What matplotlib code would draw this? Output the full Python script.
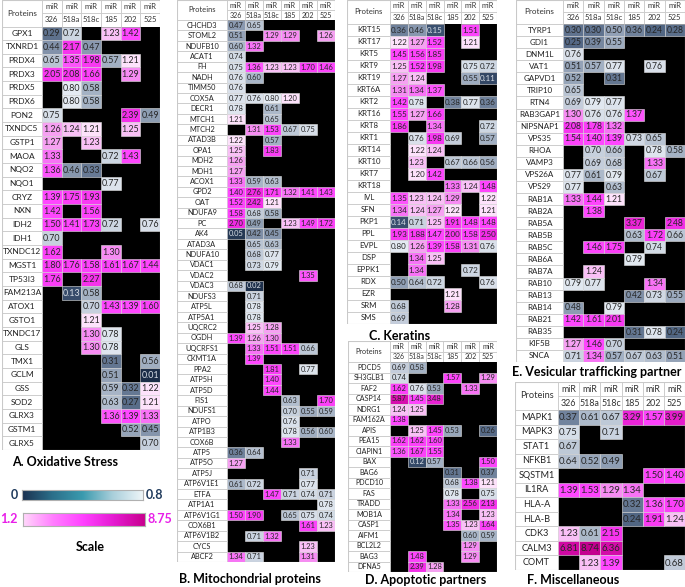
import matplotlib.pyplot as plt
import numpy as np
from matplotlib.colors import LinearSegmentedColormap, Normalize
from matplotlib.patches import Rectangle

plt.rcParams['font.family'] = ['Lato', 'DejaVu Sans']

N = None
mirs = ['326', '518a', '518c', '185', '202', '525']

# A. Oxidative stress
ox_names = ['GPX1', 'TXNRD1', 'PRDX4', 'PRDX3', 'PRDX5', 'PRDX6', 'PON2', 'TXNDC5', 'GSTP1',
            'MAOA', 'NQO2', 'NQO1', 'CRYZ', 'NXN', 'IDH2', 'IDH1', 'TXNDC12', 'MGST1', 'TP53I3',
            'FAM213A', 'ATOX1', 'GSTO1', 'TXNDC17', 'GLS', 'TMX1', 'GCLM', 'GSS', 'SOD2',
            'GLRX3', 'GSTM1', 'GLRX5']
ox_vals = [
    [0.29, 0.72, N, 1.23, 1.42, N],
    [0.44, 2.17, 0.47, N, N, N],
    [0.65, 1.35, 1.98, 0.57, 1.21, N],
    [2.05, 2.08, 1.66, N, 1.29, N],
    [N, 0.80, 0.58, N, N, N],
    [N, 0.80, 0.58, N, N, N],
    [0.75, N, N, N, 2.39, 0.49],
    [1.26, 1.24, 1.21, N, 1.25, N],
    [1.27, N, 1.23, N, N, N],
    [1.33, N, N, 0.72, 1.43, N],
    [1.36, 0.46, 0.33, N, N, N],
    [N, N, N, 0.77, N, N],
    [1.39, 1.75, 1.93, N, N, N],
    [1.42, N, 1.56, N, N, N],
    [1.50, 1.41, 1.73, 0.72, N, 0.76],
    [0.70, N, N, N, N, N],
    [1.62, N, N, 1.30, N, N],
    [1.80, 1.76, 1.58, 1.61, 1.67, 1.44],
    [1.76, N, 2.27, N, N, N],
    [N, 0.13, 0.58, N, N, N],
    [N, N, 0.70, 1.43, 1.39, 1.60],
    [N, N, 1.21, N, N, N],
    [N, N, 1.30, 0.78, N, N],
    [N, N, 1.30, 0.78, N, N],
    [N, N, N, 0.31, N, 0.56],
    [N, N, N, 0.51, N, 0.01],
    [N, N, N, 0.59, 0.32, 1.22],
    [N, N, N, 0.63, 0.27, 1.21],
    [N, N, N, 1.36, 1.39, 1.33],
    [N, N, N, N, 0.52, 0.45],
    [N, N, N, N, N, 0.70],
]

# B. Mitochondrial proteins
mito_names = ['CHCHD3', 'STOML2', 'NDUFB10', 'ACAT1', 'FH', 'NADH', 'TIMM50', 'COX5A', 'DECR1',
              'MTCH1', 'MTCH2', 'ATAD3B', 'OPA1', 'MDH2', 'MDH1', 'ACOX1', 'GPD2', 'OAT',
              'NDUFA9', 'PC', 'AK4', 'ATAD3A', 'NDUFA10', 'VDAC1', 'VDAC2', 'VDAC3', 'NDUFS3',
              'ATP5L', 'ATP5A1', 'UQCRC2', 'OGDH', 'UQCRFS1', 'CKMT1A', 'PPA2', 'ATP5H', 'ATP5D',
              'FIS1', 'NDUFS1', 'ATPO', 'ATP1B3', 'COX6B', 'ATP5', 'ATP5O', 'ATP5J', 'ATP6V1E1',
              'ETFA', 'ATP1A1', 'ATP6V1G1', 'COX6B1', 'ATP6V1B2', 'CYCS', 'ABCF2']
mito_vals = [
    [0.47, 0.65, N, N, N, N],
    [0.51, N, 1.29, 1.29, N, 1.26],
    [0.60, 1.32, N, N, N, N],
    [0.74, N, N, N, N, N],
    [0.75, 1.36, 1.23, 1.23, 1.70, 1.46],
    [0.76, 0.60, N, N, N, N],
    [0.76, N, N, N, N, N],
    [0.77, 0.76, 0.80, 1.20, N, N],
    [0.78, N, 0.61, N, N, N],
    [1.21, N, 0.65, N, N, N],
    [N, 1.31, 1.53, 0.67, 0.75, N],
    [1.22, N, 0.57, N, N, N],
    [1.25, N, 1.83, N, N, N],
    [1.26, N, N, N, N, N],
    [1.27, N, N, N, N, N],
    [1.33, 0.59, 0.63, N, N, N],
    [1.40, 2.76, 1.71, 1.32, 1.41, 1.43],
    [1.52, 2.42, 1.21, N, N, N],
    [1.58, 0.68, 0.58, N, N, N],
    [2.70, 0.49, N, 1.23, 1.49, 1.72],
    [0.05, 0.42, 0.45, N, N, N],
    [N, 0.65, 0.63, N, N, N],
    [N, 0.68, 0.77, N, N, N],
    [N, 0.73, 0.79, N, N, N],
    [N, N, N, N, 1.35, N],
    [0.68, 0.02, N, N, N, N],
    [N, 0.71, N, N, N, N],
    [N, 0.78, N, N, N, N],
    [N, 0.78, N, N, N, N],
    [N, 1.25, 1.28, N, N, N],
    [1.39, 1.26, 1.30, N, N, N],
    [N, 1.33, 1.51, 1.51, 0.66, N],
    [N, 1.39, N, N, N, N],
    [N, N, 1.81, N, 0.77, N],
    [N, N, 1.40, N, N, N],
    [N, N, 1.44, N, N, N],
    [N, N, N, 0.63, N, 1.70],
    [N, N, N, 0.70, 0.55, 0.59],
    [N, N, N, 0.76, N, N],
    [N, N, N, 0.78, 0.56, 0.60],
    [N, N, N, 1.33, N, N],
    [0.36, 0.64, N, N, N, N],
    [1.27, N, N, N, N, N],
    [N, N, N, N, 0.71, N],
    [0.61, 0.72, N, N, 0.77, N],
    [N, N, 1.47, 0.71, 0.74, 0.71],
    [N, N, N, N, N, 0.78],
    [1.50, 1.90, N, 0.65, 0.75, 0.74],
    [N, N, N, N, 1.61, 1.23],
    [N, 0.71, 1.32, N, N, N],
    [N, N, N, N, 1.23, N],
    [1.34, 0.71, N, N, 1.31, N],
]

# C. Keratins
ker_names = ['KRT15', 'KRT17', 'KRT5', 'KRT9', 'KRT19', 'KRT6A', 'KRT2', 'KRT16', 'KRT8', 'KRT1',
             'KRT14', 'KRT10', 'KRT7', 'KRT18', 'IVL', 'SFN', 'PKP1', 'PPL', 'EVPL', 'DSP',
             'EPPK1', 'RDX', 'EZR', 'SRM', 'SMS']
ker_vals = [
    [0.36, 0.46, 0.15, N, 1.51, N],
    [1.22, 1.27, 1.52, N, 1.21, N],
    [1.45, 1.56, 1.85, N, N, N],
    [1.25, 1.52, 1.98, N, 0.75, 0.72],
    [1.27, 1.24, N, N, 0.55, 0.11],
    [1.31, 1.34, 1.37, N, N, N],
    [1.42, 0.78, N, 0.38, 0.77, 0.36],
    [1.55, 1.27, 1.66, N, N, N],
    [1.86, N, 1.34, N, N, 0.72],
    [N, 0.76, 1.98, 0.69, N, 0.57],
    [N, 1.22, 1.24, N, N, N],
    [N, 1.23, N, 0.67, 0.66, 0.56],
    [N, 1.20, 1.42, N, N, N],
    [N, N, N, 1.33, 1.24, 1.48],
    [1.35, 1.23, 1.24, 1.29, N, 1.22],
    [1.34, 1.24, 1.27, 1.22, N, 1.21],
    [0.14, 0.71, 1.25, 1.91, 1.48, 1.48],
    [1.93, 1.88, 1.47, 2.00, 1.58, 2.50],
    [0.80, 1.26, 1.39, 1.58, 1.31, 0.76],
    [N, 1.34, 1.25, N, N, N],
    [N, 1.34, N, N, 0.72, N],
    [0.50, 0.64, 0.72, N, N, 0.76],
    [N, N, N, 1.21, N, N],
    [0.68, N, N, 1.28, N, N],
    [0.69, N, N, N, N, N],
]

# D. Apoptotic partners
apo_names = ['PDCD5', 'SH3GLB1', 'FAF2', 'CASP14', 'NDRG1', 'FAM162A', 'APIS', 'PEA15', 'CIAPIN1',
             'BAX', 'BAG6', 'PDCD10', 'FAS', 'TRADD', 'MOB1A', 'CASP1', 'AIFM1', 'BCL2L2',
             'BAG3', 'DFNA5']
apo_vals = [
    [0.69, 0.58, N, N, N, N],
    [0.74, N, N, 1.57, N, 1.29],
    [1.62, 0.76, 0.53, N, 1.33, N],
    [5.87, 1.45, 3.48, N, N, N],
    [1.24, 1.25, N, N, N, N],
    [1.38, N, N, N, N, N],
    [N, 1.25, 1.45, 0.53, N, 0.26],
    [1.62, 1.62, 1.60, N, N, N],
    [1.36, 1.67, 1.55, N, N, N],
    [N, 0.12, 0.57, N, N, 1.50],
    [N, N, N, 0.31, N, 0.37],
    [N, N, N, 0.68, 1.38, 1.21],
    [N, N, N, 0.78, N, 0.75],
    [N, N, N, 1.33, 2.56, 2.13],
    [N, N, N, 1.34, N, 1.23],
    [N, N, N, 1.35, 1.23, 1.64],
    [N, N, N, N, 0.60, 0.59],
    [N, N, N, N, 1.29, N],
    [N, 1.48, N, N, 1.29, N],
    [N, 2.39, 1.28, N, N, N],
]

# E. Vesicular trafficking partner
ves_names = ['TYRP1', 'GDI1', 'DNM1L', 'VAT1', 'GAPVD1', 'TRIP10', 'RTN4', 'RAB3GAP1', 'NIPSNAP1',
             'VPS35', 'RHOA', 'VAMP3', 'VPS26A', 'VPS29', 'RAB1A', 'RAB2A', 'RAB5A', 'RAB5B',
             'RAB5C', 'RAB6A', 'RAB7A', 'RAB10', 'RAB13', 'RAB14', 'RAB21', 'RAB35', 'KIF5B', 'SNCA']
ves_vals = [
    [0.30, 0.30, 0.50, 0.36, 0.24, 0.28],
    [0.25, 0.39, 0.55, N, N, N],
    [0.76, N, N, N, N, N],
    [0.51, 0.57, 0.77, N, 0.76, N],
    [0.52, N, 0.31, N, N, N],
    [0.65, N, N, N, N, N],
    [0.69, 0.79, 0.77, N, N, N],
    [1.30, 0.76, 0.76, 1.37, N, N],
    [2.08, 1.78, 1.32, N, N, N],
    [1.54, 1.40, 1.39, 0.73, 0.65, N],
    [N, 0.70, 0.66, N, 0.78, 0.58],
    [N, 0.69, 0.68, N, 1.33, N],
    [0.77, 0.61, 0.79, N, 0.67, N],
    [0.77, N, 0.63, N, N, N],
    [1.33, 1.44, 1.21, N, N, N],
    [N, 1.38, N, N, N, N],
    [N, N, N, 3.37, N, 2.48],
    [N, N, N, 0.63, 1.72, 0.66],
    [N, 1.46, 1.75, N, 0.74, N],
    [N, N, N, 0.79, N, N],
    [N, 1.24, N, N, N, N],
    [0.79, 0.77, N, N, 1.34, N],
    [N, N, N, 0.42, 0.73, 0.55],
    [0.48, N, 0.79, N, N, N],
    [1.42, 1.61, 2.01, N, N, N],
    [N, N, N, 0.31, 0.78, 0.24],
    [1.27, 1.46, 0.70, N, N, N],
    [0.71, 1.34, 0.57, 0.67, 0.63, 0.51],
]

# F. Miscellaneous
misc_names = ['MAPK1', 'MAPK3', 'STAT1', 'NFKB1', 'SQSTM1', 'IL1RA', 'HLA-A', 'HLA-B', 'CDK3',
              'CALM3', 'COMT']
misc_vals = [
    [0.37, 0.61, 0.67, 3.29, 1.57, 3.99],
    [0.75, N, 0.71, N, N, N],
    [0.67, N, N, N, N, N],
    [0.64, 0.52, 0.49, N, N, N],
    [N, N, N, N, 1.50, 1.40],
    [1.39, 1.53, 1.29, 1.34, N, N],
    [N, N, N, 0.32, 1.36, 1.70],
    [N, N, N, 0.24, 1.91, 1.24],
    [1.23, 0.61, 2.15, N, N, N],
    [6.81, 8.74, 6.36, N, N, N],
    [N, 1.23, 1.39, N, N, 0.68],
]

# colour scales: 0-0.8 (down) and 1.2-8.75 (up)
lo_cmap = LinearSegmentedColormap.from_list(
    'lo', [(0, '#1a2b45'), (0.2, '#3e5474'), (0.45, '#6f819b'), (0.75, '#a9b6c8'), (1, '#e4eaf2')])
hi_stops = [(1.2, '#fde2fb'), (1.25, '#f6a8f2'), (1.31, '#f77cf4'), (1.36, '#ff47ff'),
            (2.5, '#f22ce6'), (5.0, '#dc12b8'), (8.75, '#c4008f')]
hi_cmap = LinearSegmentedColormap.from_list(
    'hi', [((v - 1.2) / (8.75 - 1.2), c) for v, c in hi_stops])
lo_norm = Normalize(0, 0.8)
hi_norm = Normalize(1.2, 8.75)

W, H = 685, 587
fig = plt.figure(figsize=(W / 100, H / 100), dpi=100)

grid = '#c9c9c9'


def cell_colour(v):
    if v < 1:
        return lo_cmap(lo_norm(min(v, 0.8)))
    return hi_cmap(hi_norm(max(v, 1.2)))


def draw_table(left, top, right, bottom, name_px, hdr_px, names, vals, fs, hfs, nfs):
    ax = fig.add_axes([left / W, 1 - bottom / H, (right - left) / W, (bottom - top) / H])
    n = len(names)
    colw = (right - left - name_px) / 6
    rowh = (bottom - top - hdr_px) / n
    nw = name_px / colw
    hh = hdr_px / rowh
    ax.set_xlim(-nw, 6)
    ax.set_ylim(n, -hh)
    ax.axis('off')
    # header
    ax.add_patch(Rectangle((-nw, -hh), nw, hh, fc='white', ec=grid, lw=0.6))
    ax.text(-nw / 2, -hh / 2, 'Proteins', ha='center', va='center', fontsize=hfs + 0.3, color='#333333')
    for j, m in enumerate(mirs):
        ax.add_patch(Rectangle((j, -hh), 1, hh / 2, fc='white', ec=grid, lw=0.6))
        ax.add_patch(Rectangle((j, -hh / 2), 1, hh / 2, fc='white', ec=grid, lw=0.6))
        ax.text(j + 0.5, -hh * 0.75, 'miR', ha='center', va='center', fontsize=hfs, color='#333333')
        ax.text(j + 0.5, -hh * 0.25, m, ha='center', va='center', fontsize=hfs, color='#333333')
    # black value area
    ax.add_patch(Rectangle((0, 0), 6, n, fc='black', ec='none'))
    for i, (name, row) in enumerate(zip(names, vals)):
        ax.add_patch(Rectangle((-nw, i), nw, 1, fc='white', ec=grid, lw=0.6))
        ax.text(-nw / 2, i + 0.5, name, ha='center', va='center', fontsize=nfs, color='#222222')
        for j, v in enumerate(row):
            if v is None:
                continue
            ax.add_patch(Rectangle((j, i), 1, 1, fc=cell_colour(v), ec='#e3e3e3', lw=0.4))
            tc = '#d8dee6' if v < 0.2 else '#262626'
            ax.text(j + 0.5, i + 0.52, f'{v:.2f}', ha='center', va='center', fontsize=fs, color=tc)
    ax.add_patch(Rectangle((-nw, -hh), nw + 6, n + hh, fc='none', ec=grid, lw=0.8))
    return ax


draw_table(2, 0, 160, 450, 40, 26.5, ox_names, ox_vals, 6.4, 5.6, 6.0)
draw_table(177, 0, 335, 562, 50, 20, mito_names, mito_vals, 5.4, 5.1, 5.3)
draw_table(347, 0, 497, 324, 43, 24, ker_names, ker_vals, 5.8, 5.3, 5.6)
draw_table(348, 341, 497, 572, 42, 21, apo_names, apo_vals, 5.4, 5.0, 5.1)
draw_table(516, 0, 685, 362, 47, 24, ves_names, ves_vals, 6.2, 5.6, 5.8)
draw_table(515, 382, 685, 570, 43, 28, misc_names, misc_vals, 6.8, 6.4, 6.6)

title_kw = dict(ha='center', va='center', fontsize=9, fontweight='bold', color='black')
fig.text(65 / W, 1 - 462 / H, 'A. Oxidative Stress', **title_kw)
fig.text(250 / W, 1 - 579 / H, 'B. Mitochondrial proteins', **title_kw)
fig.text(400 / W, 1 - 336 / H, 'C. Keratins', **title_kw)
fig.text(426 / W, 1 - 580 / H, 'D. Apoptotic partners', **title_kw)
fig.text(597 / W, 1 - 372 / H, 'E. Vesicular trafficking partner', **title_kw)
fig.text(573 / W, 1 - 580 / H, 'F. Miscellaneous', **title_kw)

# scale bars
bar_lo = LinearSegmentedColormap.from_list('barlo', ['#1b3150', '#2b6f8a', '#3a9aae', '#a9cfdb', '#eef5f8'])
bar_hi = LinearSegmentedColormap.from_list('barhi', ['#ffd8fb', '#ff7cff', '#ff40ff', '#e41ad0', '#c8008e'])

ax_lo = fig.add_axes([22 / W, 1 - 500 / H, 121 / W, 10 / H])
ax_lo.imshow(np.linspace(0, 0.8, 256)[None, :], cmap=bar_lo, aspect='auto', extent=[0, 0.8, 0, 1])
ax_lo.set_xticks([]); ax_lo.set_yticks([])
for s in ax_lo.spines.values():
    s.set_color('#b0b0b0'); s.set_linewidth(0.8)

ax_hi = fig.add_axes([23 / W, 1 - 526 / H, 122 / W, 13 / H])
ax_hi.imshow(np.linspace(1.2, 8.75, 256)[None, :], cmap=bar_hi, aspect='auto', extent=[1.2, 8.75, 0, 1])
ax_hi.set_xticks([]); ax_hi.set_yticks([])
for s in ax_hi.spines.values():
    s.set_color('#b0b0b0'); s.set_linewidth(0.8)

fig.text(18 / W, 1 - 495 / H, '0', ha='right', va='center', fontsize=9, fontweight='bold', color='#1f3a5c')
fig.text(146 / W, 1 - 495 / H, '0.8', ha='left', va='center', fontsize=9, fontweight='bold', color='#1f3a5c')
fig.text(18 / W, 1 - 519 / H, '1.2', ha='right', va='center', fontsize=9, fontweight='bold', color='#e81ee8')
fig.text(147 / W, 1 - 519 / H, '8.75', ha='left', va='center', fontsize=9, fontweight='bold', color='#e81ee8')
fig.text(90 / W, 1 - 547 / H, 'Scale', ha='center', va='center', fontsize=9, fontweight='bold', color='black')

fig.savefig('out.png', dpi=100)
